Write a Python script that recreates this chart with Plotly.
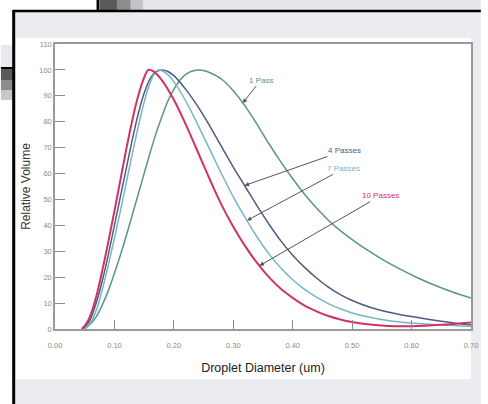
import numpy as np
import plotly.graph_objects as go

# ---- data ----
x_1pass = [0.05, 0.06, 0.07, 0.08, 0.09, 0.10, 0.11, 0.12, 0.13, 0.14, 0.15, 0.16, 0.17, 0.18, 0.19,
           0.20, 0.21, 0.22, 0.23, 0.24, 0.25, 0.26, 0.28, 0.30, 0.32, 0.34, 0.36, 0.38, 0.40, 0.42,
           0.44, 0.46, 0.48, 0.50, 0.52, 0.55, 0.58, 0.61, 0.64, 0.67, 0.70]
y_1pass = [0, 2, 5, 9.5, 15, 21.5, 28.5, 36, 44, 52, 60, 68, 75.5, 82, 88,
           92.5, 96, 98.3, 99.5, 100, 99.8, 99, 96.5, 92, 86, 79, 71.5, 64.5, 58, 52,
           46.7, 42, 38, 34.5, 31.3, 27, 23.2, 19.8, 16.8, 14.2, 12]

x_4pass = [0.047, 0.055, 0.06, 0.07, 0.08, 0.09, 0.10, 0.11, 0.12, 0.13, 0.14, 0.15, 0.16, 0.17,
           0.18, 0.19, 0.20, 0.22, 0.24, 0.26, 0.28, 0.30, 0.32, 0.34, 0.36, 0.38, 0.40, 0.42,
           0.44, 0.46, 0.48, 0.50, 0.53, 0.56, 0.60, 0.65, 0.70]
y_4pass = [0, 2, 4, 10.5, 19, 29, 40, 51, 62, 73, 83, 91, 96.5, 99.3,
           100, 99.4, 97.8, 92.5, 86, 78.5, 70.5, 62.5, 55, 47.5, 40.5, 34, 28.5, 23.8,
           19.7, 16.2, 13.3, 11, 8.4, 6.6, 4.8, 3, 1.5]

x_7pass = [0.05, 0.06, 0.07, 0.08, 0.09, 0.10, 0.11, 0.12, 0.13, 0.14, 0.15, 0.16, 0.17, 0.175,
           0.18, 0.19, 0.20, 0.22, 0.24, 0.26, 0.28, 0.30, 0.32, 0.34, 0.36, 0.38, 0.40, 0.42,
           0.44, 0.46, 0.48, 0.50, 0.53, 0.56, 0.60, 0.65, 0.70]
y_7pass = [0, 2.5, 7.5, 15.5, 25, 35, 45.5, 56.5, 67.5, 78, 87.5, 95, 99.5, 100,
           99.7, 98.2, 95.5, 88, 79, 69.5, 60, 51, 43, 35.5, 29, 23.5, 19, 15.3,
           12.3, 9.8, 7.8, 6.2, 4.5, 3.3, 2.3, 1.5, 1]

x_10pass = [0.045, 0.05, 0.055, 0.06, 0.07, 0.08, 0.09, 0.10, 0.11, 0.12, 0.13, 0.14, 0.15, 0.157,
            0.165, 0.18, 0.20, 0.22, 0.24, 0.26, 0.28, 0.30, 0.32, 0.34, 0.36, 0.38, 0.40, 0.42,
            0.44, 0.46, 0.48, 0.50, 0.53, 0.56, 0.60, 0.65, 0.70]
y_10pass = [0, 1.2, 3, 5.5, 13, 23, 34, 45.5, 57.5, 69.5, 80.5, 90, 97, 100,
            99.5, 96, 88.5, 79, 68.5, 58, 48, 39.5, 32, 25.5, 20, 15.5, 12, 9,
            6.8, 5, 3.7, 2.7, 1.7, 1.2, 1.1, 1.6, 2.5]

x_tickvals = [0.0, 0.1, 0.2, 0.3, 0.4, 0.5, 0.6, 0.7]
x_ticktext = ["0.00", "0.10", "0.20", "0.30", "0.40", "0.50", "0.60", "0.70"]
y_tickvals = [0, 10, 20, 30, 40, 50, 60, 70, 80, 90, 100, 110]

series = [
    ("1 Pass", x_1pass, y_1pass, "#5a9488", 1.5),
    ("4 Passes", x_4pass, y_4pass, "#4e5c80", 1.5),
    ("7 Passes", x_7pass, y_7pass, "#78b4c8", 1.5),
    ("10 Passes", x_10pass, y_10pass, "#d23262", 2.0),
]

# annotation arrow tip x positions and label offsets (pixels)
label_tip_x = {"1 Pass": 0.316, "4 Passes": 0.319, "7 Passes": 0.323, "10 Passes": 0.344}
label_offset = {"1 Pass": (18, -23), "4 Passes": (100, -35), "7 Passes": (97, -52), "10 Passes": (121, -70)}

FONT = "Liberation Sans, Arial, sans-serif"

fig = go.Figure()
for name, xs, ys, col, w in series:
    fig.add_trace(go.Scatter(x=xs, y=ys, mode="lines", name=name,
                             line=dict(color=col, width=w, shape="spline", smoothing=1.0),
                             showlegend=False, hoverinfo="skip"))

for name, xs, ys, col, w in series:
    tx = label_tip_x[name]
    ty = float(np.interp(tx, xs, ys))
    ax, ay = label_offset[name]
    fig.add_annotation(x=tx, y=ty, text=name, showarrow=True, ax=ax, ay=ay,
                       arrowhead=2, arrowsize=0.9, arrowwidth=1, arrowcolor="#555555",
                       font=dict(family=FONT, size=8, color=col), standoff=0)

# plot-area pixel geometry: left 55, right 478, top 44, bottom 329
L, R, T, B = 55, 478, 44, 329
def px(xp):
    return (xp - L) / (R - L)
def py(yp):
    return (B - yp) / (B - T)

shapes = []
def rect(x0, y0, x1, y1, color):
    shapes.append(dict(type="rect", xref="paper", yref="paper", layer="below",
                       x0=px(x0), x1=px(x1), y0=py(y1), y1=py(y0),
                       fillcolor=color, line=dict(width=0)))
def line(x0, y0, x1, y1, color, w):
    shapes.append(dict(type="line", xref="paper", yref="paper", layer="below",
                       x0=px(x0), x1=px(x1), y0=py(y0), y1=py(y1),
                       line=dict(color=color, width=w)))

# scan decoration
rect(100, 0, 118, 10, "#5a5a5a")
rect(118, 0, 132, 10, "#8c8c8c")
rect(132, 0, 145, 10, "#c4c4c8")
rect(145, 0, 488, 10, "#e6e6ec")
line(98.5, 0, 98.5, 11, "#000000", 2.5)
rect(0, 45, 12, 68, "#e8e8ee")
rect(0, 68, 12, 80, "#5a5a5a")
rect(0, 80, 12, 90, "#8c8c8c")
rect(0, 90, 12, 100, "#c8c8cc")
line(0, 68, 12, 68, "#000000", 2)
# grey panel with black frame
rect(13, 11, 488, 404, "#ebebf0")
rect(15, 38, 478, 379, "#ffffff")
line(13, 10, 13, 404, "#000000", 3)
line(12, 11, 488, 11, "#000000", 2.5)

fig.update_layout(
    width=488, height=404,
    margin=dict(l=L, r=488 - R, t=T, b=404 - B),
    paper_bgcolor="#ffffff",
    plot_bgcolor="rgba(0,0,0,0)",
    shapes=shapes,
    font=dict(family=FONT, size=7, color="#8a8a8a"),
    xaxis=dict(range=[0, 0.70], tickvals=x_tickvals, ticktext=x_ticktext,
               ticks="inside", ticklen=9, tickcolor="#8a8a8a", tickwidth=1,
               showline=True, linecolor="#9a9a9a", linewidth=1.5, mirror=True,
               showgrid=False, zeroline=False, ticklabelstandoff=8,
               tickfont=dict(size=7.5, color="#8a8a8a"),
               title=dict(text="Droplet Diameter (um)", standoff=14,
                          font=dict(size=12.5, color="#222222"))),
    yaxis=dict(range=[0, 110], tickvals=y_tickvals,
               ticks="inside", ticklen=10, tickcolor="#8a8a8a", tickwidth=1,
               showline=True, linecolor="#9a9a9a", linewidth=1.5, mirror=True,
               showgrid=False, zeroline=False,
               tickfont=dict(size=7.5, color="#8a8a8a"),
               title=dict(text="Relative Volume", standoff=6,
                          font=dict(size=12, color="#333333"))),
)

fig.write_html("out.html", config={"displayModeBar": False},
               post_script="document.body.style.margin='0';document.body.style.overflow='hidden';")
